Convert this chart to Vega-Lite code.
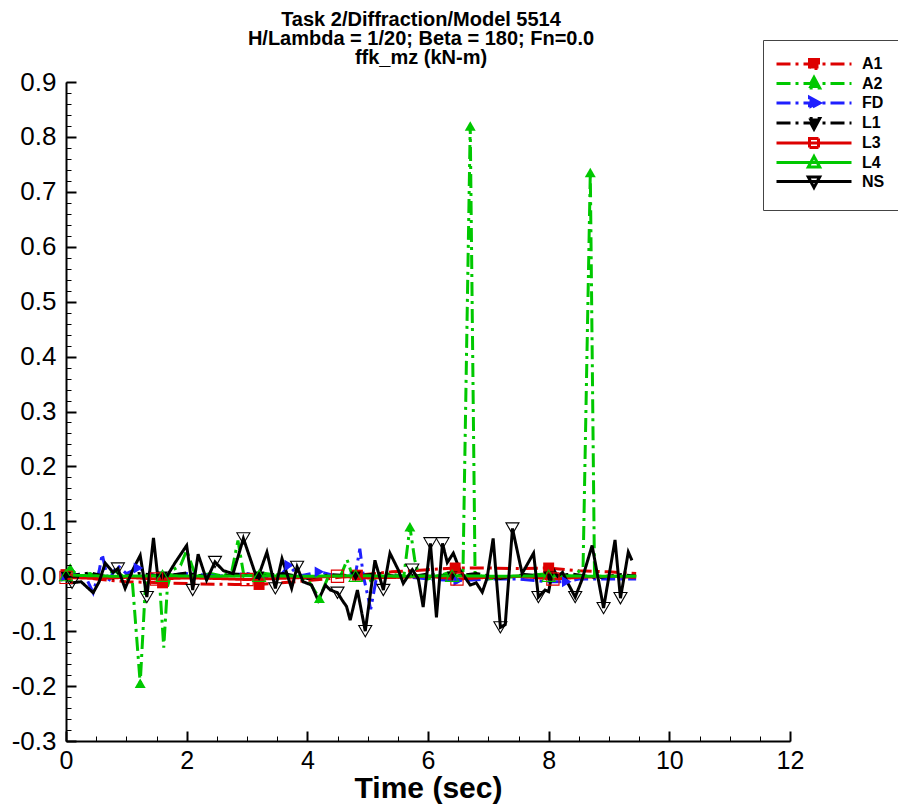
{
  "$schema": "https://vega.github.io/schema/vega-lite/v6.json",
  "width": 724,
  "height": 659,
  "autosize": "none",
  "padding": {"left": 66, "top": 82, "right": 108, "bottom": 64},
  "background": "white",
  "title": {
    "text": ["Task 2/Diffraction/Model 5514", "H/Lambda = 1/20; Beta = 180; Fn=0.0", "ffk_mz (kN-m)"],
    "font": "Liberation Sans", "fontSize": 20, "fontWeight": "bold", "lineHeight": 19,
    "anchor": "middle", "frame": "group", "offset": -28, "dx": -7, "color": "black"
  },
  "config": {
    "view": {"stroke": null},
    "axis": {"grid": false, "domainColor": "black", "tickColor": "black", "labelColor": "black", "titleColor": "black"}
  },
  "datasets": {"d": [
    {"s":"A1","t":0,"v":0.003},{"s":"A1","t":0.5,"v":-0.005},{"s":"A1","t":1.0,"v":-0.01},{"s":"A1","t":1.6,"v":-0.012},{"s":"A1","t":2.2,"v":-0.014},{"s":"A1","t":2.8,"v":-0.015},{"s":"A1","t":3.2,"v":-0.015},{"s":"A1","t":3.8,"v":-0.01},{"s":"A1","t":4.3,"v":-0.005},{"s":"A1","t":4.83,"v":0.002},{"s":"A1","t":5.4,"v":0.008},{"s":"A1","t":6.0,"v":0.012},{"s":"A1","t":6.45,"v":0.015},{"s":"A1","t":7.0,"v":0.015},{"s":"A1","t":7.5,"v":0.014},{"s":"A1","t":8.0,"v":0.015},{"s":"A1","t":8.5,"v":0.01},{"s":"A1","t":9.0,"v":0.008},{"s":"A1","t":9.45,"v":0.005},

    {"s":"A2","t":0,"v":0.005},{"s":"A2","t":0.07,"v":0.015},{"s":"A2","t":0.2,"v":0.0},{"s":"A2","t":0.4,"v":0.005},{"s":"A2","t":0.6,"v":-0.005},{"s":"A2","t":0.8,"v":0.01},{"s":"A2","t":0.95,"v":0.0},{"s":"A2","t":1.1,"v":-0.01},{"s":"A2","t":1.23,"v":-0.195},{"s":"A2","t":1.32,"v":-0.01},{"s":"A2","t":1.45,"v":0.005},{"s":"A2","t":1.55,"v":-0.01},{"s":"A2","t":1.62,"v":-0.13},{"s":"A2","t":1.68,"v":-0.02},{"s":"A2","t":1.75,"v":0.01},{"s":"A2","t":1.9,"v":0.02},{"s":"A2","t":2.0,"v":0.047},{"s":"A2","t":2.15,"v":0.0},{"s":"A2","t":2.4,"v":0.005},{"s":"A2","t":2.6,"v":0.0},{"s":"A2","t":2.75,"v":0.01},{"s":"A2","t":2.85,"v":0.065},{"s":"A2","t":2.95,"v":0.0},{"s":"A2","t":3.3,"v":0.005},{"s":"A2","t":3.7,"v":0.0},{"s":"A2","t":4.0,"v":-0.005},{"s":"A2","t":4.2,"v":-0.04},{"s":"A2","t":4.35,"v":0.0},{"s":"A2","t":4.55,"v":0.0},{"s":"A2","t":4.66,"v":0.03},{"s":"A2","t":4.75,"v":0.0},{"s":"A2","t":5.0,"v":-0.01},{"s":"A2","t":5.3,"v":0.005},{"s":"A2","t":5.6,"v":0.0},{"s":"A2","t":5.7,"v":0.09},{"s":"A2","t":5.78,"v":0.03},{"s":"A2","t":5.85,"v":0.0},{"s":"A2","t":6.0,"v":-0.005},{"s":"A2","t":6.3,"v":0.005},{"s":"A2","t":6.58,"v":0.01},{"s":"A2","t":6.7,"v":0.82},{"s":"A2","t":6.78,"v":0.005},{"s":"A2","t":7.0,"v":-0.005},{"s":"A2","t":7.5,"v":0.0},{"s":"A2","t":8.0,"v":0.005},{"s":"A2","t":8.4,"v":0.0},{"s":"A2","t":8.57,"v":0.015},{"s":"A2","t":8.69,"v":0.735},{"s":"A2","t":8.76,"v":0.0},{"s":"A2","t":9.0,"v":0.0},{"s":"A2","t":9.45,"v":0.0},

    {"s":"FD","t":0,"v":0.0},{"s":"FD","t":0.3,"v":0.005},{"s":"FD","t":0.45,"v":-0.03},{"s":"FD","t":0.55,"v":0.01},{"s":"FD","t":0.6,"v":0.04},{"s":"FD","t":0.7,"v":-0.01},{"s":"FD","t":0.85,"v":0.02},{"s":"FD","t":1.0,"v":0.005},{"s":"FD","t":1.2,"v":0.015},{"s":"FD","t":1.5,"v":0.0},{"s":"FD","t":2.0,"v":0.005},{"s":"FD","t":2.5,"v":0.0},{"s":"FD","t":3.0,"v":0.005},{"s":"FD","t":3.5,"v":-0.005},{"s":"FD","t":3.7,"v":0.02},{"s":"FD","t":3.85,"v":0.0},{"s":"FD","t":4.2,"v":0.008},{"s":"FD","t":4.5,"v":0.0},{"s":"FD","t":4.8,"v":0.005},{"s":"FD","t":4.87,"v":0.05},{"s":"FD","t":4.93,"v":0.0},{"s":"FD","t":5.05,"v":-0.06},{"s":"FD","t":5.15,"v":0.0},{"s":"FD","t":5.5,"v":0.0},{"s":"FD","t":6.0,"v":-0.005},{"s":"FD","t":6.5,"v":-0.008},{"s":"FD","t":7.0,"v":-0.005},{"s":"FD","t":7.5,"v":-0.005},{"s":"FD","t":8.0,"v":-0.01},{"s":"FD","t":8.3,"v":-0.01},{"s":"FD","t":8.5,"v":-0.005},{"s":"FD","t":9.0,"v":-0.005},{"s":"FD","t":9.45,"v":-0.005},

    {"s":"L1","t":0,"v":0.0},{"s":"L1","t":0.4,"v":0.006},{"s":"L1","t":0.8,"v":-0.004},{"s":"L1","t":1.2,"v":0.005},{"s":"L1","t":1.6,"v":0.0},{"s":"L1","t":2.0,"v":0.006},{"s":"L1","t":2.4,"v":-0.003},{"s":"L1","t":2.8,"v":0.004},{"s":"L1","t":3.2,"v":0.0},{"s":"L1","t":3.6,"v":0.005},{"s":"L1","t":4.0,"v":-0.004},{"s":"L1","t":4.4,"v":0.003},{"s":"L1","t":4.8,"v":0.0},{"s":"L1","t":5.2,"v":0.005},{"s":"L1","t":5.6,"v":-0.003},{"s":"L1","t":6.0,"v":0.004},{"s":"L1","t":6.4,"v":0.0},{"s":"L1","t":6.8,"v":0.005},{"s":"L1","t":7.2,"v":-0.004},{"s":"L1","t":7.6,"v":0.003},{"s":"L1","t":8.0,"v":0.0},{"s":"L1","t":8.4,"v":0.004},{"s":"L1","t":8.8,"v":-0.003},{"s":"L1","t":9.2,"v":0.003},{"s":"L1","t":9.45,"v":0.0},

    {"s":"L3","t":0,"v":-0.002},{"s":"L3","t":0.5,"v":-0.004},{"s":"L3","t":1.0,"v":-0.002},{"s":"L3","t":1.5,"v":-0.005},{"s":"L3","t":2.0,"v":-0.003},{"s":"L3","t":2.5,"v":-0.004},{"s":"L3","t":3.0,"v":-0.006},{"s":"L3","t":3.5,"v":-0.004},{"s":"L3","t":4.0,"v":-0.002},{"s":"L3","t":4.5,"v":0.0},{"s":"L3","t":5.0,"v":-0.003},{"s":"L3","t":5.5,"v":-0.002},{"s":"L3","t":6.0,"v":0.0},{"s":"L3","t":6.48,"v":-0.005},{"s":"L3","t":7.0,"v":-0.002},{"s":"L3","t":7.5,"v":0.0},{"s":"L3","t":8.07,"v":-0.005},{"s":"L3","t":8.5,"v":-0.002},{"s":"L3","t":9.0,"v":0.0},{"s":"L3","t":9.45,"v":-0.002},

    {"s":"L4","t":0,"v":0.002},{"s":"L4","t":0.8,"v":0.0},{"s":"L4","t":1.6,"v":0.001},{"s":"L4","t":2.4,"v":0.0},{"s":"L4","t":3.2,"v":0.001},{"s":"L4","t":4.0,"v":0.0},{"s":"L4","t":4.8,"v":0.001},{"s":"L4","t":5.6,"v":0.0},{"s":"L4","t":6.4,"v":0.001},{"s":"L4","t":7.2,"v":0.0},{"s":"L4","t":8.0,"v":0.001},{"s":"L4","t":8.8,"v":0.0},{"s":"L4","t":9.45,"v":0.0},

    {"s":"NS","t":0,"v":0.0},{"s":"NS","t":0.1,"v":-0.012},{"s":"NS","t":0.25,"v":-0.01},{"s":"NS","t":0.45,"v":-0.03},{"s":"NS","t":0.55,"v":-0.01},{"s":"NS","t":0.65,"v":0.024},{"s":"NS","t":0.78,"v":0.007},{"s":"NS","t":0.86,"v":0.014},{"s":"NS","t":0.98,"v":-0.022},{"s":"NS","t":1.1,"v":0.01},{"s":"NS","t":1.23,"v":0.038},{"s":"NS","t":1.34,"v":-0.038},{"s":"NS","t":1.45,"v":0.07},{"s":"NS","t":1.53,"v":-0.01},{"s":"NS","t":1.62,"v":-0.012},{"s":"NS","t":1.7,"v":0.005},{"s":"NS","t":1.81,"v":0.025},{"s":"NS","t":2.0,"v":0.056},{"s":"NS","t":2.1,"v":-0.025},{"s":"NS","t":2.19,"v":0.04},{"s":"NS","t":2.33,"v":-0.007},{"s":"NS","t":2.47,"v":0.026},{"s":"NS","t":2.61,"v":0.01},{"s":"NS","t":2.77,"v":0.005},{"s":"NS","t":2.94,"v":0.069},{"s":"NS","t":3.17,"v":-0.006},{"s":"NS","t":3.33,"v":0.044},{"s":"NS","t":3.47,"v":-0.022},{"s":"NS","t":3.58,"v":0.032},{"s":"NS","t":3.74,"v":-0.022},{"s":"NS","t":3.83,"v":0.017},{"s":"NS","t":3.93,"v":-0.01},{"s":"NS","t":4.07,"v":-0.016},{"s":"NS","t":4.18,"v":-0.044},{"s":"NS","t":4.3,"v":-0.016},{"s":"NS","t":4.38,"v":-0.025},{"s":"NS","t":4.5,"v":-0.03},{"s":"NS","t":4.58,"v":-0.044},{"s":"NS","t":4.65,"v":-0.055},{"s":"NS","t":4.71,"v":-0.08},{"s":"NS","t":4.83,"v":-0.025},{"s":"NS","t":4.96,"v":-0.1},{"s":"NS","t":5.12,"v":0.029},{"s":"NS","t":5.26,"v":-0.025},{"s":"NS","t":5.37,"v":0.042},{"s":"NS","t":5.51,"v":0.011},{"s":"NS","t":5.59,"v":-0.013},{"s":"NS","t":5.74,"v":0.012},{"s":"NS","t":5.84,"v":-0.005},{"s":"NS","t":5.92,"v":-0.056},{"s":"NS","t":6.04,"v":0.06},{"s":"NS","t":6.14,"v":-0.075},{"s":"NS","t":6.24,"v":0.06},{"s":"NS","t":6.32,"v":0.025},{"s":"NS","t":6.42,"v":0.042},{"s":"NS","t":6.53,"v":0.011},{"s":"NS","t":6.7,"v":-0.016},{"s":"NS","t":6.8,"v":-0.012},{"s":"NS","t":6.9,"v":-0.029},{"s":"NS","t":6.98,"v":-0.003},{"s":"NS","t":7.08,"v":0.069},{"s":"NS","t":7.2,"v":-0.093},{"s":"NS","t":7.28,"v":-0.088},{"s":"NS","t":7.4,"v":0.087},{"s":"NS","t":7.56,"v":0.005},{"s":"NS","t":7.75,"v":0.042},{"s":"NS","t":7.83,"v":-0.038},{"s":"NS","t":7.94,"v":-0.025},{"s":"NS","t":8.0,"v":-0.028},{"s":"NS","t":8.07,"v":0.014},{"s":"NS","t":8.15,"v":0.0},{"s":"NS","t":8.23,"v":0.007},{"s":"NS","t":8.32,"v":-0.013},{"s":"NS","t":8.44,"v":-0.038},{"s":"NS","t":8.55,"v":-0.007},{"s":"NS","t":8.72,"v":0.056},{"s":"NS","t":8.91,"v":-0.058},{"s":"NS","t":9.1,"v":0.066},{"s":"NS","t":9.19,"v":-0.04},{"s":"NS","t":9.32,"v":0.044},{"s":"NS","t":9.38,"v":0.029}
  ]},
  "data": {"name": "d"},
  "encoding": {
    "x": {"field": "t", "type": "quantitative", "scale": {"domain": [0, 12], "nice": false}, "axis": null},
    "y": {"field": "v", "type": "quantitative", "scale": {"domain": [-0.3, 0.9], "nice": false, "zero": false}, "axis": null}
  },
  "layer": [
    {
      "mark": {"type": "line", "clip": true},
      "encoding": {
        "x": {"field": "t", "type": "quantitative",
          "axis": {"values": [0,2,4,6,8,10,12], "tickSize": -10, "tickWidth": 2, "domainWidth": 2, "labelPadding": 17, "labelFlush": false,
            "labelFont": "Liberation Sans", "labelFontSize": 25, "title": "Time (sec)",
            "titleFont": "Liberation Sans", "titleFontSize": 30, "titleFontWeight": "bold", "titlePadding": 0}},
        "y": {"field": "v", "type": "quantitative",
          "axis": {"values": [-0.3,-0.2,-0.1,0,0.1,0.2,0.3,0.4,0.5,0.6,0.7,0.8,0.9], "tickSize": -10, "tickWidth": 2, "domainWidth": 2, "labelFlush": false,
            "labelPadding": 20, "labelFont": "Liberation Sans", "labelFontSize": 26, "title": null,
            "labelExpr": "replace(datum.label, '\u2212', '-')"}},
        "color": {"field": "s", "type": "nominal",
          "scale": {"domain": ["A1","A2","FD","L1","L3","L4","NS"], "range": ["#dd0000","#00c800","#1f1fff","#000000","#dd0000","#00c800","#000000"]},
          "legend": {
            "title": null, "orient": "none", "legendX": 697, "legendY": -42, "padding": 16,
            "strokeColor": "#444444", "fillColor": "white",
            "labelFont": "Liberation Sans", "labelFontWeight": "bold", "labelFontSize": 16, "labelColor": "black",
            "rowPadding": -3.5, "labelOffset": 40, "symbolOffset": 27, "symbolSize": 144, "symbolStrokeWidth": 3,
            "encode": {"symbols": {"update": {
              "shape": {"signal": "datum.value === 'A1' || datum.value === 'L3' ? 'M-6.25,0L6.25,0M-0.75,-0.75L0.75,-0.75L0.75,0.75L-0.75,0.75Z' : (datum.value === 'A2' || datum.value === 'L4' ? 'M-6.25,0L6.25,0M0,-1L0.95,0.75L-0.95,0.75Z' : (datum.value === 'FD' ? 'M-6.25,0L6.25,0M1,0L-0.75,-0.95L-0.75,0.95Z' : 'M-6.25,0L6.25,0M0,1L0.95,-0.75L-0.95,-0.75Z'))"},
              "fill": {"signal": "indexof(['A1','A2','FD','L1'], datum.value) >= 0 ? scale('color', datum.value) : 'transparent'"},
              "stroke": {"signal": "scale('color', datum.value)"},
              "strokeWidth": {"value": 3},
              "strokeDash": {"signal": "indexof(['A1','A2','FD','L1'], datum.value) >= 0 ? [14,5,3,5] : [1,0]"},
              "opacity": {"value": 1}
            }}}
          }},
        "strokeDash": {"field": "s", "type": "nominal",
          "scale": {"domain": ["A1","A2","FD","L1","L3","L4","NS"], "range": [[14,5,3,5],[14,5,3,5],[14,5,3,5],[14,5,3,5],[1,0],[1,0],[1,0]]},
          "legend": null},
        "strokeWidth": {"field": "s", "type": "ordinal",
          "scale": {"domain": ["A1","A2","FD","L1","L3","L4","NS"], "range": [3,3,3,3,3,3.5,4]},
          "legend": null}
      }
    },
    {
      "transform": [{"filter": "datum.s === 'A1' && indexof([0,1.6,3.2,4.83,6.45,8.0], datum.t) >= 0"}],
      "mark": {"type": "point", "shape": "square", "filled": true, "color": "#dd0000", "opacity": 1, "size": 120, "strokeWidth": 0}
    },
    {
      "transform": [{"filter": "datum.s === 'A2' && indexof([0.07,1.23,4.2,5.7,6.7,8.69], datum.t) >= 0"}],
      "mark": {"type": "point", "shape": "triangle-up", "filled": true, "color": "#00c800", "opacity": 1, "size": 120, "strokeWidth": 0}
    },
    {
      "transform": [{"filter": "datum.s === 'FD' && indexof([0,1.2,3.7,4.2,6.5,8.3], datum.t) >= 0"}],
      "mark": {"type": "point", "shape": "triangle-right", "filled": true, "color": "#1f1fff", "opacity": 1, "size": 120, "strokeWidth": 0}
    },
    {
      "transform": [{"filter": "datum.s === 'L1' && indexof([0,1.6,3.2,4.8,6.4,8.0], datum.t) >= 0"}],
      "mark": {"type": "point", "shape": "triangle-down", "filled": true, "color": "#000000", "opacity": 1, "size": 120, "strokeWidth": 0}
    },
    {
      "transform": [{"filter": "datum.s === 'L3' && indexof([0,1.5,3.0,4.5,6.48,8.07], datum.t) >= 0"}],
      "mark": {"type": "point", "shape": "square", "filled": false, "color": "#dd0000", "opacity": 1, "size": 150, "strokeWidth": 1.1}
    },
    {
      "transform": [{"filter": "datum.s === 'L4' && indexof([0,1.6,3.2,4.8,6.4,8.0], datum.t) >= 0"}],
      "mark": {"type": "point", "shape": "triangle-up", "filled": false, "color": "#00c800", "opacity": 1, "size": 170, "strokeWidth": 1.1}
    },
    {
      "transform": [{"filter": "datum.s === 'NS' && indexof([0.1,0.86,1.34,2.1,2.47,2.94,3.47,3.83,4.5,4.96,5.26,5.74,6.04,6.24,7.2,7.4,7.83,8.44,8.91,9.19], datum.t) >= 0"}],
      "mark": {"type": "point", "shape": "triangle-down", "filled": false, "color": "#000000", "opacity": 1, "size": 170, "strokeWidth": 1.1}
    },
    {
      "data": {"values": [{}]},
      "mark": {"type": "rule", "opacity": 0},
      "encoding": {
        "x": {"datum": 0, "type": "quantitative",
          "axis": {"values": [0,0.5,1,1.5,2,2.5,3,3.5,4,4.5,5,5.5,6,6.5,7,7.5,8,8.5,9,9.5,10,10.5,11,11.5,12], "orient": "bottom", "tickSize": -5, "tickWidth": 1, "labels": false, "domain": false, "title": null, "zindex": 1}},
        "y": {"datum": 0, "type": "quantitative",
          "axis": {"values": [-0.3,-0.28,-0.26,-0.24,-0.22,-0.2,-0.18,-0.16,-0.14,-0.12,-0.1,-0.08,-0.06,-0.04,-0.02,0,0.02,0.04,0.06,0.08,0.1,0.12,0.14,0.16,0.18,0.2,0.22,0.24,0.26,0.28,0.3,0.32,0.34,0.36,0.38,0.4,0.42,0.44,0.46,0.48,0.5,0.52,0.54,0.56,0.58,0.6,0.62,0.64,0.66,0.68,0.7,0.72,0.74,0.76,0.78,0.8,0.82,0.84,0.86,0.88,0.9], "orient": "left", "tickSize": -5, "tickWidth": 1, "labels": false, "domain": false, "title": null, "zindex": 1}}
      }
    }
  ],
  "resolve": {"axis": {"x": "independent", "y": "independent"}}
}
